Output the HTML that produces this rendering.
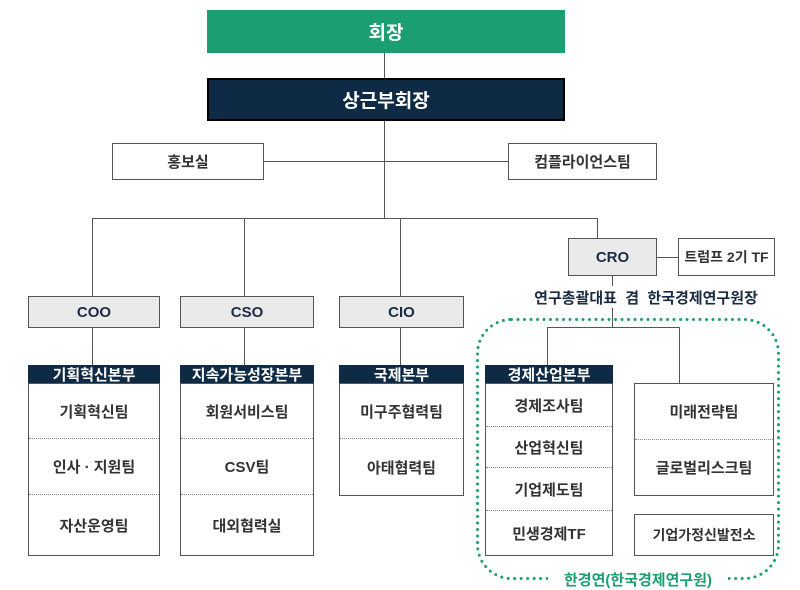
<!DOCTYPE html>
<html><head><meta charset="utf-8"><style>
body{margin:0;width:800px;height:590px;background:#fff;position:relative;overflow:hidden;font-family:"Liberation Sans","Noto Sans CJK KR",sans-serif;}
.b{position:absolute;box-sizing:border-box;display:flex;align-items:center;justify-content:center;font-weight:bold;color:#333;}
.l{position:absolute;background:#555;}
.g{background:#eaeaea;border:1px solid #555;color:#1b2b40;font-size:15px;}
.w{background:#fff;border:1px solid #555;font-size:15px;}
.h{background:#0f2a44;color:#fff;font-size:15px;}
.col{position:absolute;box-sizing:border-box;border:1px solid #555;background:#fff;}
.col div{box-sizing:border-box;display:flex;align-items:center;justify-content:center;font-weight:bold;color:#333;font-size:15px;border-bottom:1px dotted #888;}
.col div:last-child{border-bottom:none;}
</style></head><body>
<div class="b" style="left:207px;top:10px;width:358px;height:43px;background:#1a9e72;color:#fff;font-size:19px;">회장</div>
<div class="l" style="left:384px;top:53px;width:1px;height:25px"></div>
<div class="b" style="left:207px;top:78px;width:358px;height:43px;background:#0f2a44;border:2px solid #000;color:#fff;font-size:19px;">상근부회장</div>
<div class="l" style="left:384px;top:121px;width:1px;height:97px"></div>
<div class="l" style="left:264px;top:161px;width:244px;height:1px"></div>
<div class="b w" style="left:112px;top:143px;width:152px;height:37px">홍보실</div>
<div class="b w" style="left:508px;top:143px;width:149px;height:37px">컴플라이언스팀</div>
<div class="l" style="left:92px;top:218px;width:506px;height:1px"></div>
<div class="l" style="left:92px;top:218px;width:1px;height:147px"></div>
<div class="l" style="left:244px;top:218px;width:1px;height:147px"></div>
<div class="l" style="left:400px;top:218px;width:1px;height:147px"></div>
<div class="l" style="left:597px;top:218px;width:1px;height:20px"></div>
<div class="b g" style="left:568px;top:238px;width:89px;height:38px">CRO</div>
<div class="l" style="left:657px;top:257px;width:21px;height:1px"></div>
<div class="b w" style="left:678px;top:238px;width:97px;height:38px;font-size:14px">트럼프 2기 TF</div>
<div class="l" style="left:612px;top:276px;width:1px;height:10px"></div>
<div class="b" style="left:520px;top:286px;width:252px;height:22px;color:#1b2b40;font-size:15px;">연구총괄대표&nbsp; 겸&nbsp; 한국경제연구원장</div>
<div class="l" style="left:612px;top:308px;width:1px;height:19px"></div>
<div class="l" style="left:547px;top:327px;width:132px;height:1px"></div>
<div class="l" style="left:547px;top:327px;width:1px;height:38px"></div>
<div class="l" style="left:679px;top:327px;width:1px;height:57px"></div>
<div class="b g" style="left:28px;top:296px;width:132px;height:32px">COO</div>
<div class="b g" style="left:180px;top:296px;width:134px;height:32px">CSO</div>
<div class="b g" style="left:339px;top:296px;width:125px;height:32px">CIO</div>
<svg style="position:absolute;left:0;top:0" width="800" height="590"><rect x="477.5" y="319.5" width="301" height="259" rx="34" fill="none" stroke="#1a9e72" stroke-width="3" stroke-dasharray="0 6.5" stroke-linecap="round"/></svg>
<div class="b" style="left:548px;top:569px;width:180px;height:20px;background:#fff;color:#1a9e72;font-size:15px;">한경연(한국경제연구원)</div>
<div class="b h" style="left:28px;top:365px;width:132px;height:19px">기획혁신본부</div>
<div class="col" style="left:28px;top:383px;width:132px;height:173px"><div style="height:55px">기획혁신팀</div><div style="height:56px">인사 · 지원팀</div><div style="height:60px">자산운영팀</div></div>
<div class="b h" style="left:180px;top:365px;width:134px;height:19px">지속가능성장본부</div>
<div class="col" style="left:180px;top:383px;width:134px;height:173px"><div style="height:55px">회원서비스팀</div><div style="height:56px">CSV팀</div><div style="height:60px">대외협력실</div></div>
<div class="b h" style="left:339px;top:365px;width:125px;height:19px">국제본부</div>
<div class="col" style="left:339px;top:383px;width:125px;height:113px"><div style="height:55px">미구주협력팀</div><div style="height:56px">아태협력팀</div></div>
<div class="b h" style="left:485px;top:365px;width:128px;height:19px">경제산업본부</div>
<div class="col" style="left:485px;top:383px;width:128px;height:173px"><div style="height:43px">경제조사팀</div><div style="height:41px">산업혁신팀</div><div style="height:43px">기업제도팀</div><div style="height:44px">민생경제TF</div></div>
<div class="col" style="left:634px;top:383px;width:140px;height:113px"><div style="height:56px">미래전략팀</div><div style="height:55px">글로벌리스크팀</div></div>
<div class="col" style="left:634px;top:514px;width:140px;height:42px"><div style="height:40px;font-size:14px">기업가정신발전소</div></div>
</body></html>
